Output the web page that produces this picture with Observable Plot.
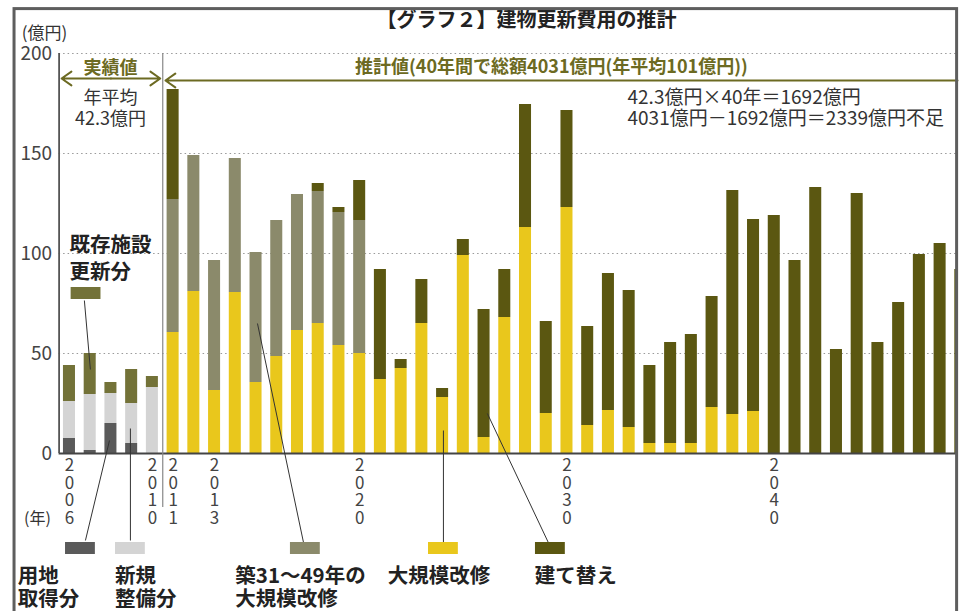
<!DOCTYPE html>
<html><head><meta charset="utf-8">
<script src="https://cdn.jsdelivr.net/npm/d3@7"></script>
<script src="https://cdn.jsdelivr.net/npm/@observablehq/plot@0.6"></script>
<style>
html,body{margin:0;padding:0;background:#fff;overflow:hidden}
#wrap{position:relative;width:960px;height:611px;overflow:hidden;background:#fff}
</style></head><body><div id="wrap"></div>
<script>
// ---- data (億円) ----
const actualYears = [2006, 2007, 2008, 2009, 2010];
const landAcq = [7.5, 1.5, 15, 5, 0];            // 用地取得分
const newBuild = [18.5, 28, 15, 20, 33];         // 新規整備分
const existingRenewal = [18, 20.5, 5.5, 17, 5.5]; // 既存施設更新分

const estYears = [2011,2012,2013,2014,2015,2016,2017,2018,2019,2020,
  2021,2022,2023,2024,2025,2026,2027,2028,2029,2030,
  2031,2032,2033,2034,2035,2036,2037,2038,2039,2040,
  2041,2042,2043,2044,2045,2046,2047,2048,2049];
const majorRenov = [60.5,81,31.5,80.5,35.5,48.5,61.5,65,54,50,
  37,42.5,65,28,99,8,68,113,20,123,
  14,21.5,13,5,5,5,23,19.5,21,0,
  0,0,0,0,0,0,0,0,0];                              // 大規模改修
const renov3149 = [66.5,68,65,67,65,68,68,66,66.5,66.5,
  0,0,0,0,0,0,0,0,0,0, 0,0,0,0,0,0,0,0,0,0, 0,0,0,0,0,0,0,0,0]; // 築31～49年の大規模改修
const rebuild = [55,0,0,0,0,0,0,4,2.5,20,
  55,4.5,22,4.5,8,64,24,61.5,46,48.5,
  49.5,68.5,68.5,39,50.5,54.5,55.5,112,96,119,
  96.5,133,52,130,55.5,75.5,99.5,105,92];           // 建て替え

const seriesNames = ["用地取得分","新規整備分","既存施設更新分","大規模改修","築31～49年の大規模改修","建て替え"];
const seriesColors = ["#5a5a5a","#d4d4d4","#737238","#e9c71c","#8b8a6b","#5b5711"];

const yTicks = [0, 50, 100, 150, 200];
const xTickYears = [2006, 2010, 2011, 2013, 2020, 2030, 2040];

// long table
const rows = [];
actualYears.forEach((yr, i) => {
  rows.push({year: yr, series: "用地取得分", value: landAcq[i]});
  rows.push({year: yr, series: "新規整備分", value: newBuild[i]});
  rows.push({year: yr, series: "既存施設更新分", value: existingRenewal[i]});
});
estYears.forEach((yr, i) => {
  rows.push({year: yr, series: "大規模改修", value: majorRenov[i]});
  rows.push({year: yr, series: "築31～49年の大規模改修", value: renov3149[i]});
  rows.push({year: yr, series: "建て替え", value: rebuild[i]});
});
const data = rows.filter(d => d.value > 0);

const half = 0.29;
const olive = "#6c6a22";
const FONT = "'Noto Sans CJK JP', 'Noto Sans', sans-serif";

const legend = [
  {series: "用地取得分", x: 2006.53, y: -47.5},
  {series: "新規整備分", x: 2008.94, y: -47.5},
  {series: "築31～49年の大規模改修", x: 2017.38, y: -47.5},
  {series: "大規模改修", x: 2024.04, y: -47.5},
  {series: "建て替え", x: 2029.2, y: -47.5},
  {series: "既存施設更新分", x: 2006.8, y: 80}
];
const legendLabels = [
  {text: "用地", x: 2003.5, y: -61.5},
  {text: "取得分", x: 2003.5, y: -73},
  {text: "新規", x: 2008.2, y: -61.5},
  {text: "整備分", x: 2008.2, y: -73},
  {text: "築31～49年の", x: 2014.0, y: -61.5},
  {text: "大規模改修", x: 2014.0, y: -73},
  {text: "大規模改修", x: 2021.35, y: -61.5},
  {text: "建て替え", x: 2028.45, y: -61.5},
  {text: "既存施設", x: 2006.0, y: 104},
  {text: "更新分", x: 2006.0, y: 90.5}
];
const leaders = [
  {x1: 2006.72, y1: 76.5, x2: 2007.01, y2: 42},
  {x1: 2006.77, y1: -43.5, x2: 2007.93, y2: 6.5},
  {x1: 2008.94, y1: -43.5, x2: 2008.94, y2: 12.5},
  {x1: 2017.29, y1: -44.5, x2: 2015.07, y2: 65},
  {x1: 2024.04, y1: -44.5, x2: 2024.04, y2: 11.5},
  {x1: 2029.1, y1: -44.5, x2: 2026.16, y2: 20}
];
const panel = [{left: 2003.35, right: 2048.82, top: 222.2, bottom: -90}];

const chart = Plot.plot({
  width: 960, height: 611,
  marginLeft: 58.6, marginRight: 3.5, marginTop: 53, marginBottom: 158,
  x: {type: "linear", domain: [2005.5, 2049.5], range: [58.6, 970.7]},
  y: {domain: [0, 200], range: [453, 53]},
  color: {domain: seriesNames, range: seriesColors},
  style: {fontFamily: FONT, background: "white", color: "#333"},
  marks: [
    Plot.ruleY([50, 100, 150, 200], {stroke: "#9a9a9a", strokeDasharray: "1.5,3", strokeWidth: 1.2}),
    Plot.rectY(data, Plot.stackY({
      x1: d => d.year - half, x2: d => d.year + half,
      y: "value", fill: "series", order: seriesNames, clip: true
    })),
    Plot.ruleY([0], {stroke: "#444", strokeWidth: 2}),
    Plot.ruleX([2005.5], {y1: 0, y2: 200, stroke: "#555", strokeWidth: 1.8}),
    Plot.ruleX([2010.5], {y1: -27, y2: 200, stroke: "#888", strokeWidth: 1.2}),
    Plot.axisY({ticks: yTicks, tickSize: 0, tickPadding: 7, fontSize: 19, label: null, fill: "#444"}),
    Plot.axisX({ticks: xTickYears, tickFormat: d => String(d).split("").join("\n"), tickSize: 0, tickPadding: 5,
      fontSize: 17, lineHeight: 1.04, label: null, fill: "#444"}),
    Plot.text(["(億円)"], {x: 2003.7, y: 210, textAnchor: "start", fontSize: 17, fill: "#333"}),
    Plot.text(["(年)"], {x: 2005.1, y: -32.5, textAnchor: "end", fontSize: 16, fill: "#333"}),
    Plot.text(["【グラフ２】建物更新費用の推計"], {x: 2028.05, y: 216.5, fontSize: 20, fontWeight: "bold", fill: "#222"}),
    Plot.arrow([{a: 2008, b: 2005.62}, {a: 2008, b: 2010.38}], {x1: "a", x2: "b", y1: 187.5, y2: 187.5,
      stroke: olive, strokeWidth: 2, headLength: 9, headAngle: 70}),
    Plot.arrow([{a: 2048.84, b: 2010.63}], {x1: "a", x2: "b", y1: 186.5, y2: 186.5,
      stroke: olive, strokeWidth: 2, headLength: 9, headAngle: 70}),
    Plot.text(["実績値"], {x: 2007.98, y: 192.5, fontSize: 18, fontWeight: "bold", fill: olive}),
    Plot.text(["推計値(40年間で総額4031億円(年平均101億円))"], {x: 2029.25, y: 193, fontSize: 18, fontWeight: "bold", fill: olive}),
    Plot.text(["年平均", "42.3億円"], {x: 2007.98, y: (d, i) => [177.5, 167][i], fontSize: 18, fill: "#333"}),
    Plot.text(["42.3億円×40年＝1692億円", "4031億円－1692億円＝2339億円不足"], {x: 2032.92, y: (d, i) => [178, 167.5][i],
      textAnchor: "start", fontSize: 19, fill: "#333"}),
    Plot.link(leaders, {x1: "x1", y1: "y1", x2: "x2", y2: "y2", stroke: "#333", strokeWidth: 1}),
    Plot.rect(legend, {x1: d => d.x - 0.72, x2: d => d.x + 0.72, y1: d => d.y - 3, y2: d => d.y + 3, fill: "series"}),
    Plot.text(legendLabels, {x: "x", y: "y", text: "text", textAnchor: "start", fontSize: 20.5, fontWeight: "bold", fill: "#222"}),
    // outer panel border
    Plot.rect(panel, {x1: "left", x2: "right", y1: "bottom", y2: "top", fill: "none", stroke: "#5e5e5e", strokeWidth: 3})
  ]
});
document.getElementById("wrap").appendChild(chart);
</script></body></html>
